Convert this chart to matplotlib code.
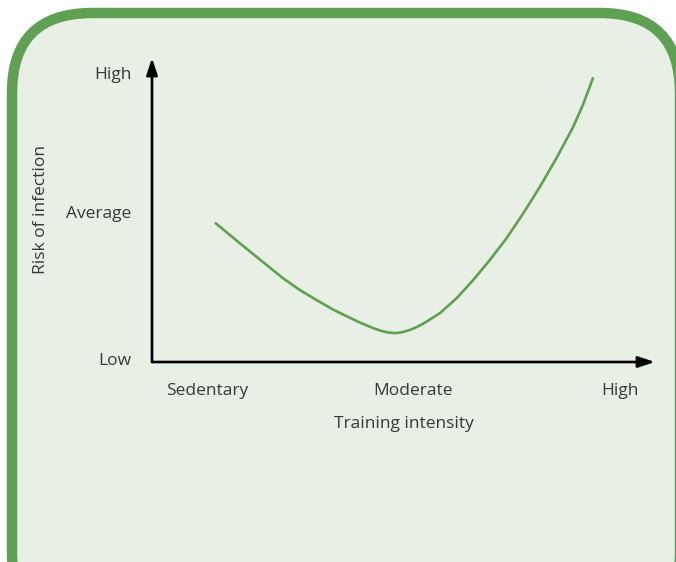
import matplotlib.pyplot as plt
from matplotlib.patches import FancyBboxPatch

plt.rcParams['font.family'] = ['Open Sans', 'DejaVu Sans']

# 数据: 训练强度 (0=Sedentary, 1=Moderate, 2=High) 与感染风险 (0=Low, 1=Average, ~1.93=High)
intensity = [0.039, 0.160, 0.289, 0.369, 0.450, 0.531, 0.612, 0.692, 0.741,
             0.805, 0.840, 0.870, 0.895, 0.910, 0.925, 0.950, 0.983, 1.015,
             1.047, 1.128, 1.209, 1.290, 1.370, 1.451, 1.532, 1.613, 1.693,
             1.774, 1.822, 1.871]
risk = [0.929, 0.791, 0.647, 0.558, 0.480, 0.413, 0.349, 0.295, 0.263,
        0.226, 0.209, 0.199, 0.1945, 0.193, 0.194, 0.200, 0.214, 0.232,
        0.255, 0.325, 0.425, 0.547, 0.680, 0.825, 0.991, 1.169, 1.360,
        1.568, 1.718, 1.898]

x_ticks = [0, 1, 2]
x_labels = ['Sedentary', 'Moderate', 'High']
y_ticks = [0.02, 1.0, 1.93]
y_labels = ['Low', 'Average', 'High']

green = '#60a052'
text_col = '#383838'

fig = plt.figure(figsize=(6.76, 5.62), dpi=100)
fig.patch.set_facecolor('white')

# 背景圆角框
bg = fig.add_axes([0, 0, 1, 1])
bg.set_xlim(0, 676)
bg.set_ylim(562, 0)
bg.axis('off')
box = FancyBboxPatch((12, 13), 668, 620, boxstyle='round,pad=0,rounding_size=80',
                     facecolor='#e8efe5', edgecolor=green, linewidth=7.5)
bg.add_patch(box)

ax = fig.add_axes([152 / 676, 1 - 362 / 562, 503 / 676, 304 / 562])
ax.set_facecolor('none')
ax.set_xlim(-0.266, 2.17)
ax.set_ylim(0, 2.027)
for s in ax.spines.values():
    s.set_visible(False)

ax.plot(intensity, risk, color=green, linewidth=1.9, solid_capstyle='butt',
        solid_joinstyle='round')

# 坐标轴箭头
arrow = dict(arrowstyle='-|>,head_length=1.0,head_width=0.33', color='black',
             linewidth=1.9, shrinkA=0, shrinkB=0)
ax.annotate('', xy=(1, 0), xytext=(0, 0), xycoords='axes fraction', arrowprops=arrow)
ax.annotate('', xy=(0, 1), xytext=(0, 0), xycoords='axes fraction', arrowprops=arrow)

ax.set_xticks(x_ticks, x_labels)
ax.set_yticks(y_ticks, y_labels)
ax.tick_params(length=0, labelsize=12.5, colors=text_col)
ax.tick_params(axis='x', pad=15)
ax.tick_params(axis='y', pad=15)
ax.set_xlabel('Training intensity', fontsize=12.5, color=text_col, labelpad=12)
ax.set_ylabel('Risk of infection', fontsize=12.5, color=text_col, labelpad=12)

fig.savefig('out.png', dpi=100)
